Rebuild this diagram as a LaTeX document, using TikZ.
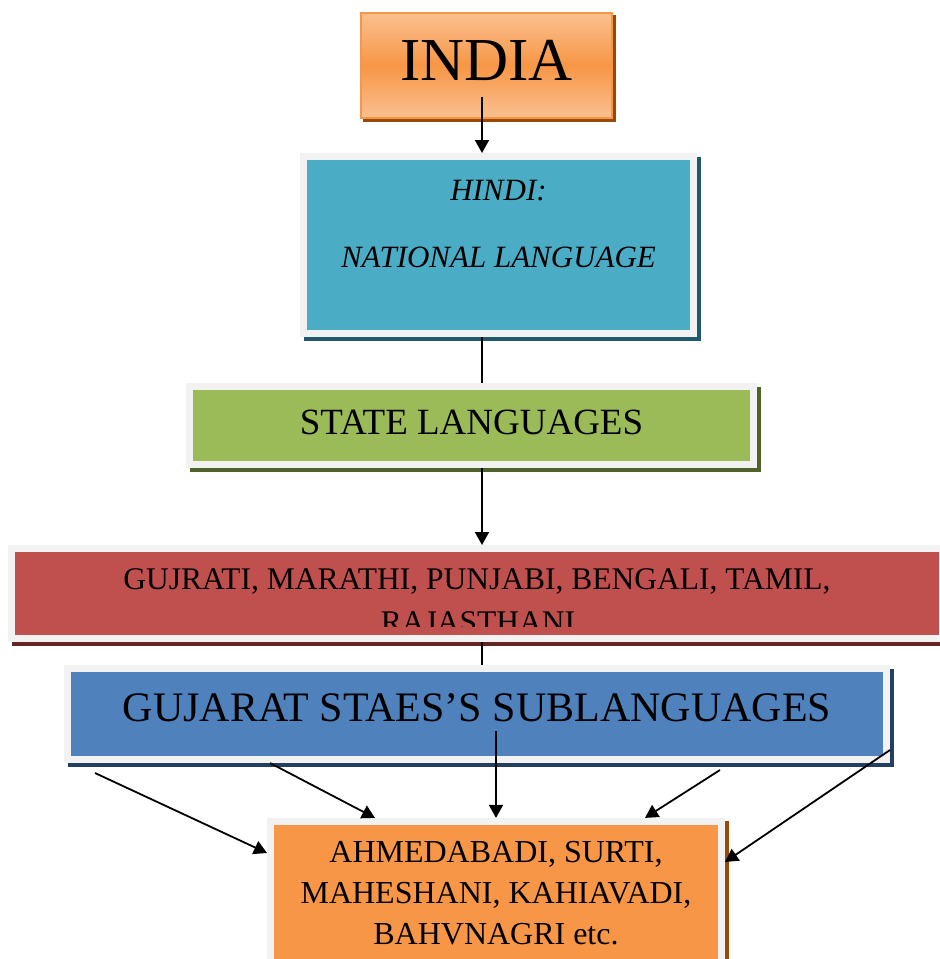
\documentclass[tikz,border=0pt]{standalone}
\usepackage{fontspec}
\setmainfont{Liberation Serif}
\usetikzlibrary{arrows.meta,shadows}

\definecolor{rim}{HTML}{F2F2F2}
\definecolor{india}{HTML}{F79646}
\definecolor{indialight}{HTML}{FAC090}
\definecolor{indiadark}{HTML}{984807}
\definecolor{hindi}{HTML}{4BACC6}
\definecolor{hindidark}{HTML}{215968}
\definecolor{state}{HTML}{9BBB59}
\definecolor{statedark}{HTML}{4F6228}
\definecolor{langs}{HTML}{C0504D}
\definecolor{langsdark}{HTML}{632523}
\definecolor{gujarat}{HTML}{4F81BD}
\definecolor{gujaratdark}{HTML}{243F60}
\definecolor{sub}{HTML}{F79646}
\definecolor{subdark}{HTML}{984807}

\begin{document}
\begin{tikzpicture}[->,>={Triangle[length=13pt,width=14pt]},line width=1.8pt,
                    x=1pt,y=-1pt,
                    cast/.style={general shadow={fill=#1,draw=#1,line width=7pt,
                                 shadow xshift=3.5pt,shadow yshift=-3.5pt}}]
  \tikzstyle{lang box}=[draw=rim,line width=7pt,inner sep=0pt,align=center]

  \useasboundingbox (0,0) rectangle (940,959);
  \clip (0,0) rectangle (940,959);

  \node[draw=india,line width=2pt,top color=indialight,bottom color=indialight,middle color=india,
        general shadow={fill=indiadark,draw=indiadark,line width=2pt,shadow xshift=3pt,shadow yshift=-3pt},
        minimum width=251pt,minimum height=105pt,inner sep=0pt,text depth=10pt,
        font=\fontsize{61}{70}\selectfont] (India) at (486.5,65.5) {INDIA};
  \node[lang box,cast=hindidark,fill=hindi,minimum width=390pt,minimum height=177pt,text depth=43pt,
        font=\fontsize{31}{37}\selectfont\itshape] (Hindi) at (498.5,245) {HINDI:\\[30pt]NATIONAL LANGUAGE};
  \node[lang box,cast=statedark,fill=state,minimum width=564pt,minimum height=78pt,text depth=7pt,
        font=\fontsize{37}{44}\selectfont] (State) at (471.5,425.5) {STATE LANGUAGES};
  \node[lang box,cast=langsdark,fill=langs,minimum width=931pt,minimum height=90pt,text depth=28pt,
        font=\fontsize{31.5}{37}\selectfont] (Langs) at (477,593.5) {GUJRATI, MARATHI, PUNJABI, BENGALI, TAMIL,};
  \begin{scope}
    \clip (0,600) rectangle (940,626);
    \node[inner sep=0pt,font=\fontsize{31.5}{37}\selectfont] (Raj) at (478,622) {RAJASTHANI};
  \end{scope}
  \node[lang box,cast=gujaratdark,fill=gujarat,minimum width=819pt,minimum height=91pt,text depth=13pt,
        font=\fontsize{42}{50}\selectfont] (Gujarat) at (477,714) {GUJARAT STAES'S SUBLANGUAGES};
  \node[lang box,cast=subdark,fill=sub,minimum width=451pt,minimum height=144pt,
        font=\fontsize{32}{41}\selectfont] (Sub) at (496,893.4) {AHMEDABADI, SURTI,\\MAHESHANI, KAHIAVADI,\\BAHVNAGRI etc.};

  \coordinate (spine) at (482,0);
  \coordinate (IndiaTail) at (482,97);
  \coordinate (GujTail) at (496,731);
  \coordinate (FarLeft) at (95,773);
  \coordinate (NearRight) at (720,770);

  \path (IndiaTail) edge (IndiaTail |- Hindi.north)
        (Hindi.south -| spine) edge[-] (State.north -| spine)
        (State.south -| spine) edge (Langs.north -| spine)
        (Langs.south -| spine) edge[-] (Gujarat.north -| spine)
        (FarLeft) edge (Sub.west |- 0,853)
        (Gujarat.south -| 270,0) edge (Sub.north -| 375,0)
        (GujTail) edge (GujTail |- Sub.north)
        (NearRight) edge (Sub.north -| 645,0)
        (Gujarat.east |- 0,750) edge (Sub.east |- 0,862);
\end{tikzpicture}
\end{document}
